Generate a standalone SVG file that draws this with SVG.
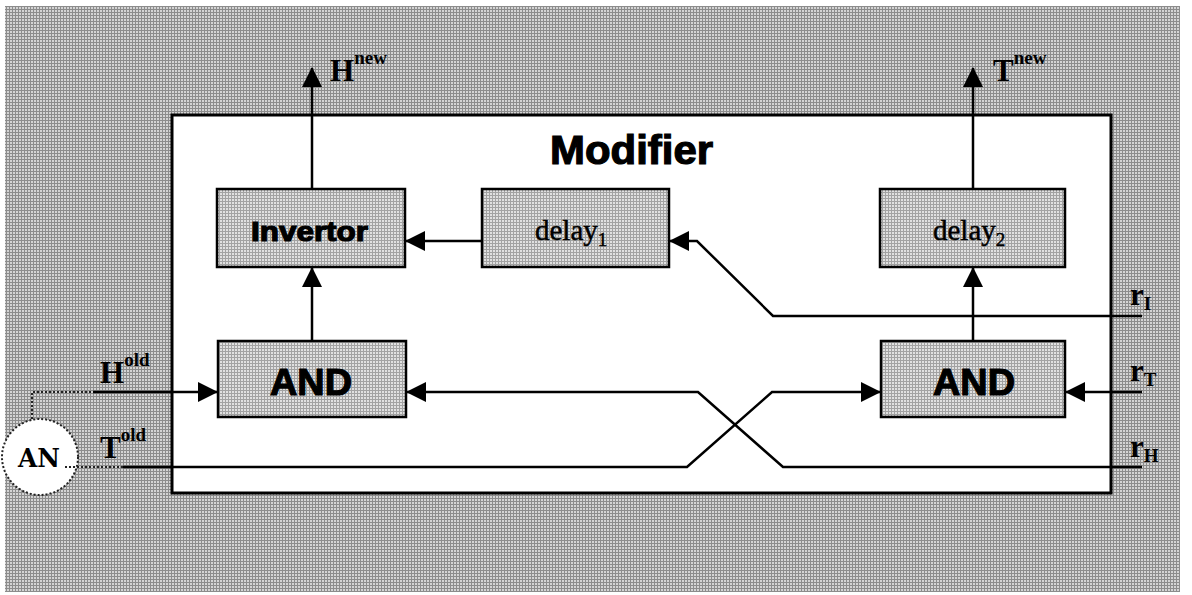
<svg xmlns="http://www.w3.org/2000/svg" width="1192" height="595" viewBox="0 0 1192 595">
  <defs>
    <!-- halftone-style screens -->
    <pattern id="screen" width="3" height="3" patternUnits="userSpaceOnUse">
      <rect width="3" height="3" fill="#d4d4d4"/>
      <rect width="3" height="1" fill="#8c8c8c"/>
      <rect width="1" height="3" fill="#8c8c8c"/>
    </pattern>
    <pattern id="screenLight" width="3" height="3" patternUnits="userSpaceOnUse">
      <rect width="3" height="3" fill="#e0e0e0"/>
      <rect width="3" height="1" fill="#a2a2a2"/>
      <rect width="1" height="3" fill="#a2a2a2"/>
    </pattern>
    <marker id="arrow" markerWidth="20" markerHeight="20" viewBox="0 0 20 20" refX="19" refY="10" orient="auto" markerUnits="userSpaceOnUse">
      <path d="M0,0 L20,10 L0,20 Z" fill="#000"/>
    </marker>
  </defs>
  <style>
    .block { fill: url(#screenLight); stroke: #000; stroke-width: 2.5; }
    .wire { fill: none; stroke: #000; stroke-width: 2.5; }
    .dotted { fill: none; stroke: #222; stroke-width: 2; stroke-dasharray: 2 2; }
    .serif { font-family: "Liberation Serif", "Times New Roman", serif; fill: #000; }
    .sans { font-family: "Liberation Sans", Arial, sans-serif; font-weight: bold; fill: #000; stroke: #000; stroke-width: 1.2; }
    .sig { font-size: 31px; font-weight: bold; }
    .sup { font-size: 19px; }
    .delay { stroke: #000; stroke-width: 0.5; }
  </style>

  <!-- backdrop -->
  <rect x="0" y="0" width="1192" height="595" fill="#fff"/>
  <rect x="5" y="6" width="1175" height="586" fill="url(#screen)"/>

  <!-- enclosing Modifier unit -->
  <g id="modifier">
    <rect x="172" y="115" width="939" height="378" fill="#fff" stroke="#000" stroke-width="3"/>
    <text x="550" y="164" class="sans" font-size="40" textLength="163" lengthAdjust="spacingAndGlyphs">Modifier</text>
  </g>

  <g id="invertor">
    <rect class="block" x="217" y="189" width="188" height="78"/>
    <text x="251" y="241" class="sans" font-size="27" textLength="117" lengthAdjust="spacingAndGlyphs">Invertor</text>
  </g>

  <g id="delay1">
    <rect class="block" x="482" y="189" width="187" height="78"/>
    <text x="535" y="240" class="serif delay" font-size="29">delay<tspan font-size="19" dy="6">1</tspan></text>
  </g>

  <g id="delay2">
    <rect class="block" x="880" y="189" width="185" height="78"/>
    <text x="933" y="240" class="serif delay" font-size="29">delay<tspan font-size="19" dy="6">2</tspan></text>
  </g>

  <g id="and-left">
    <rect class="block" x="218" y="341" width="188" height="76"/>
    <text x="270" y="395" class="sans" font-size="37" textLength="82" lengthAdjust="spacingAndGlyphs">AND</text>
  </g>

  <g id="and-right">
    <rect class="block" x="881" y="341" width="184" height="76"/>
    <text x="933" y="395" class="sans" font-size="37" textLength="82" lengthAdjust="spacingAndGlyphs">AND</text>
  </g>

  <g id="an">
    <circle cx="40" cy="457" r="38" fill="#fff" stroke="#222" stroke-width="2" stroke-dasharray="2 2"/>
    <text x="39" y="467" font-family="DejaVu Serif, serif" font-weight="bold" font-size="26" text-anchor="middle" textLength="42" lengthAdjust="spacingAndGlyphs" fill="#000">AN</text>
  </g>

  <g id="connectors">
    <!-- outputs -->
    <path class="wire" d="M312,189 V68" marker-end="url(#arrow)"/>
    <path class="wire" d="M973,189 V68" marker-end="url(#arrow)"/>
    <!-- internal chain -->
    <path class="wire" d="M482,241 H406" marker-end="url(#arrow)"/>
    <path class="wire" d="M312,341 V268" marker-end="url(#arrow)"/>
    <path class="wire" d="M973,341 V268" marker-end="url(#arrow)"/>
    <!-- r_I into delay1 -->
    <path class="wire" d="M1142,316 H773 L697,241 H670" marker-end="url(#arrow)"/>
    <!-- r_T into right AND -->
    <path class="wire" d="M1142,392 H1066" marker-end="url(#arrow)"/>
    <!-- r_H crossing into left AND -->
    <path class="wire" d="M1142,467 H783 L698,392 H407" marker-end="url(#arrow)"/>
    <!-- T_old crossing into right AND -->
    <path class="dotted" d="M65,467 H123"/>
    <path class="wire" d="M123,467 H687 L772,392 H880" marker-end="url(#arrow)"/>
    <!-- H_old into left AND -->
    <path class="dotted" d="M32,419 V392 H93"/>
    <path class="wire" d="M93,392 H217" marker-end="url(#arrow)"/>
  </g>

  <g id="labels">
    <text x="330" y="81" class="serif sig">H<tspan class="sup" dy="-17">new</tspan></text>
    <text x="993" y="81" class="serif sig">T<tspan class="sup" dy="-17">new</tspan></text>
    <text x="100" y="383" class="serif sig">H<tspan class="sup" dy="-17">old</tspan></text>
    <text x="100" y="458" class="serif sig">T<tspan class="sup" dy="-17">old</tspan></text>
    <text x="1130" y="305" class="serif sig">r<tspan class="sup" dy="5">I</tspan></text>
    <text x="1130" y="381" class="serif sig">r<tspan class="sup" dy="5">T</tspan></text>
    <text x="1130" y="457" class="serif sig">r<tspan class="sup" dy="5">H</tspan></text>
  </g>
</svg>
